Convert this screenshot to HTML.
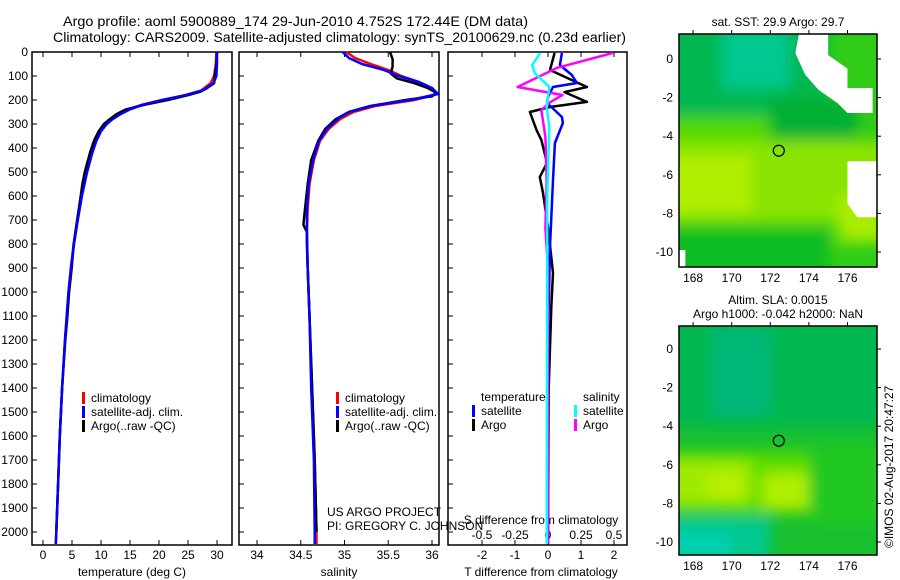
<!DOCTYPE html>
<html><head><meta charset="utf-8"><style>
html,body{margin:0;padding:0;background:#fff;}
svg{display:block;font-family:"Liberation Sans",sans-serif;}
text{font-size:12px;fill:#000;}
</style></head><body>
<svg id="fig" width="900" height="580" viewBox="0 0 900 580" xmlns="http://www.w3.org/2000/svg">
<defs>
<filter id="blur6" x="-20%" y="-20%" width="140%" height="140%"><feGaussianBlur stdDeviation="7"/></filter>
<clipPath id="clipMap1"><rect x="679" y="34" width="198" height="233"/></clipPath>
<clipPath id="clipMap2"><rect x="679" y="326" width="198" height="229"/></clipPath>
<clipPath id="clipP1"><rect x="32" y="45" width="200" height="500"/></clipPath>
<clipPath id="clipP2"><rect x="239" y="45" width="200" height="500"/></clipPath>
<clipPath id="clipP3"><rect x="448" y="45" width="179" height="500"/></clipPath>
</defs>
<text x="63" y="26" textLength="465" lengthAdjust="spacingAndGlyphs" style="font-size:14px">Argo profile: aoml 5900889_174 29-Jun-2010 4.752S 172.44E (DM data)</text>
<text x="53" y="42" textLength="573" lengthAdjust="spacingAndGlyphs" style="font-size:14px">Climatology: CARS2009. Satellite-adjusted climatology: synTS_20100629.nc (0.23d earlier)</text>
<g id="plots"></g>
<g id="maps"></g>
<text transform="translate(893,548) rotate(-90)" style="font-size:12px">©IMOS 02-Aug-2017 20:47:27</text>
</svg>
<script>
// ---------- data ----------
const depthTicks = [0,100,200,300,400,500,600,700,800,900,1000,1100,1200,1300,1400,1500,1600,1700,1800,1900,2000];
const tempTicks = [0,5,10,15,20,25,30];
const salTicks = [34,34.5,35,35.5,36];
const salTickLabels = ["34","34.5","35","35.5","36"];
const tdiffTicks = [-2,-1,0,1,2];
const sdiffTicks = [-0.5,-0.25,0,0.25,0.5];
const sdiffTickLabels = ["-0.5","-0.25","0","0.25","0.5"];

const tClimDepth = [0,50,100,130,160,180,200,220,240,260,280,300,330,370,420,500,600,700,800,900,1000,1200,1400,1600,1800,2000,2050];
const tClim = [29.9,29.8,29.5,28.9,27.3,24.5,20.5,17.0,14.5,13.0,11.8,10.8,9.8,9.0,8.3,7.5,6.6,5.9,5.3,4.8,4.4,3.8,3.3,2.9,2.6,2.3,2.2];
const tSat = [30.0,30.0,29.9,29.4,27.5,24.5,20.6,17.2,14.9,13.3,12.0,11.0,10.0,9.2,8.5,7.6,6.7,6.0,5.35,4.85,4.4,3.8,3.3,2.9,2.6,2.3,2.2];
const tArgoDepth = [0,50,100,130,150,165,180,200,220,240,260,280,300,330,370,420,500,550,600,700,800,900,1000,1100,1200,1400,1600,1800,2000];
const tArgo = [30.0,29.9,29.6,29.5,28.3,27.2,25.0,21.5,17.5,14.2,12.6,11.5,10.5,9.6,8.8,8.1,7.2,6.8,6.5,5.9,5.3,4.95,4.5,4.2,3.85,3.3,2.9,2.6,2.3];

const sClimDepth = [0,25,50,75,100,125,150,175,200,225,250,280,320,370,450,550,650,750,900,1100,1400,1700,2000,2050];
const sClim = [35.02,35.12,35.3,35.5,35.65,35.85,36.0,36.05,35.8,35.35,35.1,34.95,34.82,34.72,34.65,34.6,34.58,34.57,34.58,34.6,34.63,34.66,34.68,34.68];
const sSat = [34.98,35.05,35.2,35.45,35.62,35.85,36.0,36.07,35.75,35.3,35.05,34.92,34.8,34.71,34.64,34.59,34.57,34.57,34.58,34.6,34.62,34.65,34.66,34.66];
const sArgoDepth = [0,30,60,90,110,130,150,170,185,200,225,250,280,320,370,450,550,650,720,750,800,900,1100,1400,1700,2000];
const sArgo = [35.52,35.55,35.55,35.53,35.6,35.8,35.95,36.05,36.0,35.7,35.3,35.05,34.9,34.78,34.7,34.62,34.58,34.55,34.53,34.57,34.57,34.58,34.6,34.63,34.66,34.68];

const tdSatDepth = [4,54,96,129,146,188,212,271,296,379,533,812,1200,2050];
const tdSat = [0.42,0.36,0.72,0.88,0.15,0.0,-0.03,0.42,0.45,0.21,0.15,0.06,0.0,0.0];
const tdArgoDepth = [4,75,146,167,208,229,250,325,367,462,521,587,729,921,1062,1400,2050];
const tdArgo = [0.2,0.06,1.18,0.5,1.18,0.06,-0.55,-0.35,-0.2,-0.03,-0.25,-0.15,0.0,0.15,0.1,0.02,0.0];
const sdSatDepth = [4,54,88,146,229,312,600,2050];
const sdSat = [-0.06,-0.12,-0.10,0.01,-0.01,0.01,-0.005,-0.01];
const sdArgoDepth = [4,66,146,179,208,242,354,546,733,900,2050];
const sdArgo = [0.49,0.07,-0.23,0.11,0.02,-0.05,-0.02,-0.01,-0.02,0.0,0.0];

const lonTicks = [168,170,172,174,176];
const latTicks = [0,-2,-4,-6,-8,-10];
const floatLon = 172.44, floatLat = -4.752;

// ---------- helpers ----------
const NS = "http://www.w3.org/2000/svg";
function mk(tag, attrs, parent){ const e=document.createElementNS(NS,tag); for(const k in attrs) e.setAttribute(k,attrs[k]); parent.appendChild(e); return e; }
const plots = document.getElementById('plots');
const Y0=52, Y1=545;
function yD(d){ return 52 + d*0.24; }
function xT(v){ return 43 + v*5.8; }
function xS(v){ return 257 + (v-34)*87.5; }
function xTD(v){ return 548 + v*33; }
function xSD(v){ return 548 + v*132; }

function panel(name, x0, x1){
  const r = mk('rect',{x:x0,y:Y0,width:x1-x0,height:Y1-Y0,fill:'none',stroke:'#000','stroke-width':1.5},plots);
  
  
  depthTicks.forEach(d=>{
    const y=yD(d);
    mk('line',{x1:x0,x2:x0+5,y1:y,y2:y,stroke:'#000'},plots);
  });
}
function xticks(vals, xf, labels, ylab, x0, name){
  vals.forEach((v,i)=>{
    const x=xf(v);
    mk('line',{x1:x,x2:x,y1:Y0,y2:Y0+5,stroke:'#000'},plots);
    mk('line',{x1:x,x2:x,y1:Y1,y2:Y1-5,stroke:'#000'},plots);
    const t=mk('text',{x:x,y:ylab,'text-anchor':'middle'},plots);
    t.textContent = labels ? labels[i] : String(v);
    
    
  });
}
function line(depths, vals, xf, color, clip, name){
  const pts = depths.map((d,i)=>xf(vals[i]).toFixed(1)+','+yD(d).toFixed(1)).join(' ');
  const p = mk('polyline',{points:pts,fill:'none',stroke:color,'stroke-width':2.5,'clip-path':'url(#'+clip+')','stroke-linejoin':'round'},plots);
  
  
}
function label(x,y,str,name,anchor){
  const t=mk('text',{x:x,y:y,'text-anchor':anchor||'start'},plots);
  t.textContent=str;
  
  
  return t;
}
function legendMark(x,y,color,name){
  const r=mk('rect',{x:x,y:y-10,width:3,height:12,fill:color},plots);
  
  
}

depthTicks.forEach(d=>{
  const t=mk('text',{x:28,y:yD(d)+4,'text-anchor':'end'},plots);
  t.textContent=String(d);
  
  
});

panel('temperature-panel',32,232);
xticks(tempTicks,xT,null,559,32,'temperature-tick-label');
label(132,576,'temperature (deg C)','temperature-axis-title','middle');
line(tClimDepth,tClim,xT,'#f00','clipP1','temp-climatology-line');
line(tArgoDepth,tArgo,xT,'#000','clipP1','temp-argo-line');
line(tClimDepth,tSat,xT,'#00f','clipP1','temp-satellite-line');
legendMark(82,402,'#f00','legend-climatology-mark'); label(91,402,'climatology','legend-climatology');
legendMark(82,416,'#00f','legend-satellite-mark'); label(91,416,'satellite-adj. clim.','legend-satellite');
legendMark(82,430,'#000','legend-argo-mark'); label(91,430,'Argo(..raw -QC)','legend-argo');

panel('salinity-panel',239,439);
xticks(salTicks,xS,salTickLabels,559,239,'salinity-tick-label');
label(339,576,'salinity','salinity-axis-title','middle');
line(sClimDepth,sClim,xS,'#f00','clipP2','sal-climatology-line');
line(sArgoDepth,sArgo,xS,'#000','clipP2','sal-argo-line');
line(sClimDepth,sSat,xS,'#00f','clipP2','sal-satellite-line');
legendMark(336,402,'#f00','legend2-climatology-mark'); label(345,402,'climatology','legend2-climatology');
legendMark(336,416,'#00f','legend2-satellite-mark'); label(345,416,'satellite-adj. clim.','legend2-satellite');
legendMark(336,430,'#000','legend2-argo-mark'); label(345,430,'Argo(..raw -QC)','legend2-argo');
label(327,516,'US ARGO PROJECT','project-label');
label(327,530,'PI: GREGORY C. JOHNSON','pi-label');

panel('difference-panel',448,627);
tdiffTicks.forEach((v,i)=>{
  const x=xTD(v);
  mk('line',{x1:x,x2:x,y1:Y0,y2:Y0+5,stroke:'#000'},plots);
  mk('line',{x1:x,x2:x,y1:Y1,y2:Y1-5,stroke:'#000'},plots);
  label(x,559,String(v),'tdiff-tick-label','middle');
});
sdiffTicks.forEach((v,i)=>{ label(xSD(v),539,sdiffTickLabels[i],'sdiff-tick-label','middle'); });
label(541,524,'S difference from climatology','sdiff-axis-title','middle');
label(541,576,'T difference from climatology','tdiff-axis-title','middle');
line(tdArgoDepth,tdArgo,xTD,'#000','clipP3','tdiff-argo-line');
line(tdSatDepth,tdSat,xTD,'#00f','clipP3','tdiff-satellite-line');
line(sdArgoDepth,sdArgo,xSD,'#f0f','clipP3','sdiff-argo-line');
line(sdSatDepth,sdSat,xSD,'#0ff','clipP3','sdiff-satellite-line');
label(481,401,'temperature','legend3-temperature-header');
label(583,401,'salinity','legend3-salinity-header');
legendMark(472,415,'#00f','legend3-tsat-mark'); label(481,415,'satellite','legend3-tsat');
legendMark(472,429,'#000','legend3-targo-mark'); label(481,429,'Argo','legend3-targo');
legendMark(574,415,'#0ff','legend3-ssat-mark'); label(583,415,'satellite','legend3-ssat');
legendMark(574,429,'#f0f','legend3-sargo-mark'); label(583,429,'Argo','legend3-sargo');

// ---------- maps ----------
const maps=document.getElementById('maps');
function mapFrame(name, top, lat0y, title1, title2, blobs, whites){
  const lx=l=>679+(l-167.27)*19.3;
  const ly=l=>lat0y - l*19.3;
  const g=mk('g',{'clip-path':'url(#'+(top<200?'clipMap1':'clipMap2')+')'},maps);
  
  
  mk('rect',{x:679,y:top,width:198,height:(top<200?233:229),fill:blobs[0]},g);
  const bg=mk('g',{filter:'url(#blur6)'},g);
  for(let i=1;i<blobs.length;i++){
    const b=blobs[i];
    mk('rect',{x:lx(b[0]),y:ly(b[1]),width:(b[2]-b[0])*19.3,height:(b[1]-b[3])*19.3,fill:b[4]},bg);
  }
  whites.forEach(w=>{
    mk('polygon',{points:w.map(p=>lx(p[0])+','+ly(p[1])).join(' '),fill:'#fff'},g);
  });
  const h=(top<200?233:229);
  const fr=mk('rect',{x:679,y:top,width:198,height:h,fill:'none',stroke:'#000','stroke-width':1.5},maps);
  
  
  lonTicks.forEach(l=>{
    const x=lx(l);
    mk('line',{x1:x,x2:x,y1:top,y2:top-4,stroke:'#000'},maps);
    const t=mk('text',{x:x,y:top+h+15,'text-anchor':'middle'},maps);
    t.textContent=String(l);
    
    
  });
  latTicks.forEach(l=>{
    const y=ly(l);
    mk('line',{x1:877,x2:881,y1:y,y2:y,stroke:'#000'},maps);
    const t=mk('text',{x:673,y:y+4,'text-anchor':'end'},maps);
    t.textContent=String(l);
    
    
  });
  const c=mk('circle',{cx:lx(floatLon),cy:ly(floatLat),r:5.5,fill:'none',stroke:'#000','stroke-width':1.2},maps);
  
  
  const t1=mk('text',{x:778,y:top-(title2?22:8),'text-anchor':'middle'},maps);
  t1.textContent=title1;
  
  
  if(title2){
    const t2=mk('text',{x:778,y:top-8,'text-anchor':'middle'},maps);
    t2.textContent=title2;
    
    
  }
}
mapFrame('sst-map',34,59,'sat. SST: 29.9 Argo: 29.7',null,
 ['#30cc18',
  [166,2,175,-3,'#00b850'],
  [169.5,1.5,173,-1.5,'#00c890'],
  [172,-2,176.5,-4.5,'#00b030'],
  [166,-3,172,-4.3,'#50d800'],
  [166,-4.2,178,-8.5,'#88e400'],
  [166,-5,171,-8,'#b0ee00'],
  [175.5,-7,178,-9.5,'#a8ec00'],
  [166,-8.8,175,-12,'#10bc20']],
 [[[173.5,1.4],[175,1.4],[175,0.2],[176,-0.5],[176,-1.5],[177.3,-1.5],[177.3,-2.8],[176,-2.8],[175.5,-2.3],[174.5,-1.6],[173.8,-0.8],[173.3,0.3],[173.5,1.4]],
  [[176,-5.3],[177.6,-5.3],[177.6,-8.2],[176.5,-8.2],[176,-7.5],[176,-5.3]],
  [[167.2,-9.9],[167.6,-9.9],[167.6,-10.9],[167.2,-10.9]]]);
mapFrame('sla-map',326,349,'Altim. SLA: 0.0015','Argo h1000: -0.042 h2000: NaN',
 ['#18c030',
  [166,2,178,-4,'#00b850'],
  [169,1,172,-3.5,'#00b878'],
  [166,-5.3,175,-8.5,'#58dc00'],
  [166,-5.8,171,-8,'#a0ea00'],
  [168.8,-6.4,170.6,-7.8,'#b8f000'],
  [171.6,-6.4,174,-8.3,'#b0ee00'],
  [166,-8.7,172,-11,'#00c890'],
  [166,-9.5,170,-11,'#00d0b0'],
  [174,-5,178,-9,'#20c820']],
 []);
</script>
</body></html>
